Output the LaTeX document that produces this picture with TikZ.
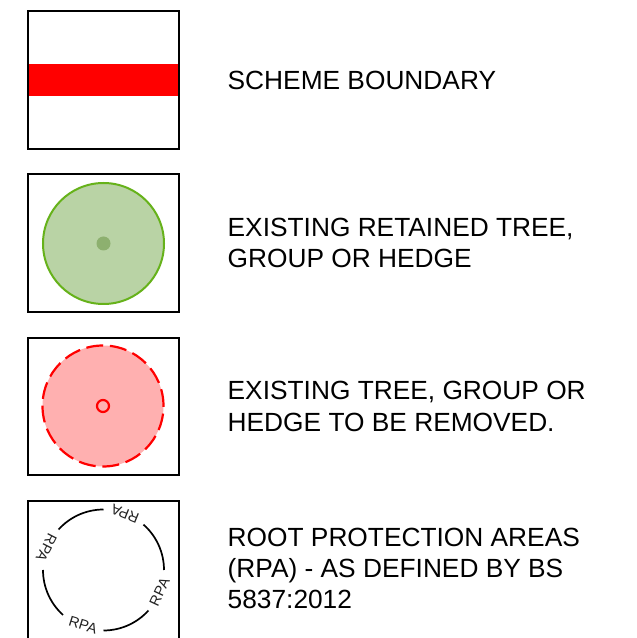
\documentclass[tikz,border=0pt]{standalone}
\usepackage{fontspec}
\setmainfont{Liberation Sans}
\definecolor{greenfill}{HTML}{B9D3A5}
\definecolor{greenline}{HTML}{66B21A}
\definecolor{greendot}{HTML}{8DB06F}
\definecolor{redfill}{HTML}{FFB0B0}
\definecolor{inkgrey}{HTML}{222222}
\tikzset{
  legendbox/.style={draw=black,line width=1.3pt},
  legendtext/.style={anchor=base west,inner sep=0pt,font=\fontsize{26.3}{26.3}\selectfont,text=black},
  rpaarc/.style={draw=black,line width=1.7pt},
  rpatext/.style={inner sep=0pt,font=\fontsize{14.5}{14.5}\selectfont,text=inkgrey}
}
\begin{document}
\begin{tikzpicture}[x=1pt,y=1pt]
\useasboundingbox (0,0) rectangle (637,638);
\clip (0,0) rectangle (637,638);
\fill[white] (0,0) rectangle (637,638);
% scheme boundary
\fill[red] (28,542) rectangle (179,574);
\draw[legendbox] (28,489) rectangle (179,627);
\node[legendtext] (t1) at (227.5,548.5) {SCHEME BOUNDARY};
% retained
\draw[legendbox] (28,326) rectangle (179,464);
\draw[fill=greenfill,draw=greenline,line width=2pt] (103.5,394.5) circle (60.5);
\fill[greendot] (103.5,394.5) circle (7);
\node[legendtext] (t2a) at (227.5,401) {EXISTING RETAINED TREE,};
\node[legendtext] (t2b) at (227.5,370) {GROUP OR HEDGE};
% removed
\draw[legendbox] (28,163) rectangle (179,300);
\fill[redfill] (103,232) circle (60.5);
\draw[red,line width=2.2pt,dash pattern=on 17pt off 6.7pt] (103,232) circle (60.5);
\draw[red,line width=2.2pt] (103,232) circle (6);
\node[legendtext] (t3a) at (227.5,238) {EXISTING TREE, GROUP OR};
\node[legendtext] (t3b) at (227.5,206) {HEDGE TO BE REMOVED.};
% rpa
\draw[legendbox] (28,-5) rectangle (179,137);
\draw[rpaarc] (103.5,68) ++(48.6:60.5) arc (48.6:0:60.5);
\draw[rpaarc] (103.5,68) ++(-42:60.5) arc (-42:-90:60.5);
\draw[rpaarc] (103.5,68) ++(228:60.5) arc (228:180:60.5);
\draw[rpaarc] (103.5,68) ++(138:60.5) arc (138:90:60.5);
\node[rpatext,rotate=158] (r1) at (125,124) {RPA};
\node[rpatext,rotate=243] (r2) at (46.5,90) {RPA};
\node[rpatext,rotate=65] (r3) at (159.5,46) {RPA};
\node[rpatext,rotate=-17] (r4) at (83,13) {RPA};
\node[legendtext] (t4a) at (227.5,91.3) {ROOT PROTECTION AREAS};
\node[legendtext] (t4b) at (227.5,60.5) {(RPA) - AS DEFINED BY BS};
\node[legendtext] (t4c) at (227.5,29.7) {5837:2012};
\end{tikzpicture}
\end{document}
